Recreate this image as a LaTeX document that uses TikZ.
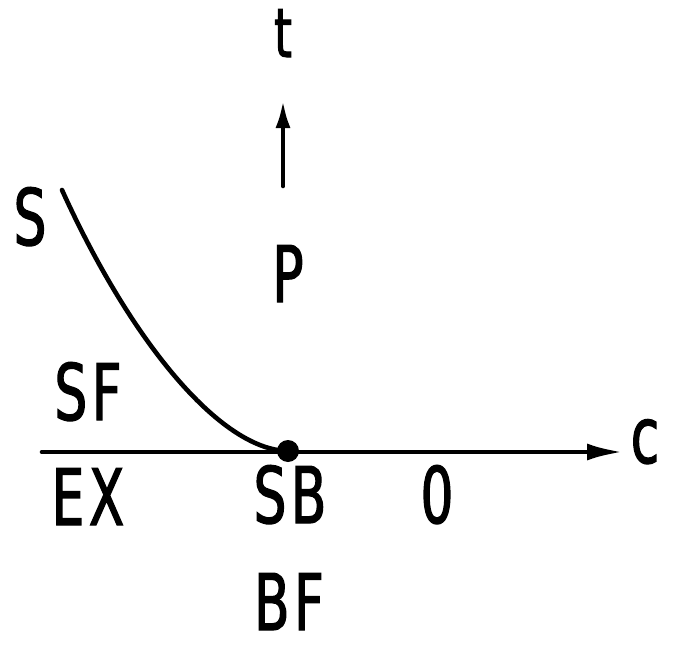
\documentclass[tikz,border=0pt]{standalone}
\usepackage{fontspec}
\setmainfont{DejaVu Sans}[FakeStretch=0.66,LetterSpace=6,
  BoldFont={DejaVu Sans},BoldFeatures={FakeBold=1.6}]
\usetikzlibrary{arrows.meta}
\begin{document}
\begin{tikzpicture}[x=1pt,y=-1pt,
  lbl/.style={inner sep=0pt,anchor=base,text depth=0pt,font=\fontsize{78}{82}\selectfont\bfseries},
  axis/.style={line width=4.6pt,line cap=round},
  tip/.style={-{Latex[length=36pt,width=17pt]}}]
\useasboundingbox (0,0) rectangle (673,645);
% labels
\node[lbl,font=\fontsize{68}{72}\selectfont\bfseries] (t) at (283,57) {t};
\node[lbl] (S) at (30,245) {S};
\node[lbl] (P) at (288,302) {P};
\node[lbl] (SF) at (88,420) {SF};
\node[lbl] (EX) at (88,525) {EX};
\node[lbl] (SB) at (290,523) {SB};
\node[lbl] (O) at (437,523) {0};
\node[lbl] (BF) at (289,630) {BF};
\node[lbl] (c) at (645,463) {c};
% coordinates
\coordinate (ab) at (283,186);
\coordinate (at) at (283,100);
\coordinate (hl) at (42,452);
\coordinate (hr) at (623,452);
\coordinate (cs) at (62,190);
\coordinate (dot) at (288,451);
% axis arrows
\draw[axis,-{Latex[length=28pt,width=15pt]}] (ab) -- (at);
\draw[axis,tip] (hl) -- (hr);
% curve
\draw[axis] (cs) .. controls (130,340) and (220,450) .. (dot);
\fill (dot) circle (11);
\end{tikzpicture}
\end{document}
